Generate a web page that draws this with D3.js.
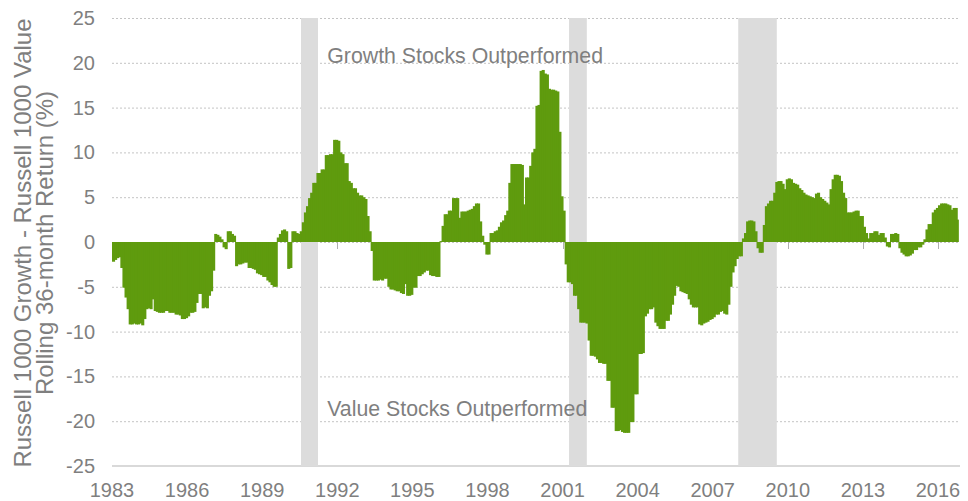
<!DOCTYPE html>
<html>
<head>
<meta charset="utf-8">
<script src="https://cdn.jsdelivr.net/npm/d3@7"></script>
<style>
  html, body { margin: 0; padding: 0; background: #ffffff; }
  svg { display: block; }
  text { font-family: "Liberation Sans", Arial, sans-serif; fill: #7f7f7f; }
</style>
</head>
<body>
<svg id="chart" width="968" height="501"></svg>
<script>
// ---- data ----
const startYear = 1983;               // first month = Jan 1983
const monthlyDiff = [
  // 1983
  -2.2, -2.0, -1.8, -1.7, -2.9, -5.1, -6.2, -7.5, -9.2, -9.2, -9.1, -9.2,
  // 1984
  -9.2, -9.1, -9.3, -8.6, -7.5, -7.4, -7.5, -6.4, -7.7, -7.8, -7.9, -7.9,
  // 1985
  -7.9, -7.7, -7.7, -7.9, -7.9, -7.9, -8.1, -8.1, -8.2, -8.6, -8.6, -8.5,
  // 1986
  -8.3, -7.9, -7.9, -7.8, -6.8, -5.8, -5.8, -7.4, -7.3, -7.4, -6.0, -5.5,
  // 1987
  -3.2, 0.9, 0.8, 0.6, 0.3, -0.6, -0.8, 1.2, 1.2, 0.9, 0.7, -2.7,
  // 1988
  -2.5, -2.5, -2.4, -2.3, -2.3, -2.9, -2.9, -3.0, -3.1, -3.5, -3.6, -3.7,
  // 1989
  -3.9, -3.9, -4.3, -4.5, -4.8, -5.0, -5.0, 0.5, 0.9, 1.3, 1.4, 1.2,
  // 1990
  -3.0, -2.9, 1.2, 1.2, 1.0, 0.9, 1.2, 2.2, 3.3, 4.0, 4.9, 5.5,
  // 1991
  6.6, 6.6, 7.7, 7.7, 8.1, 8.1, 9.7, 9.7, 9.8, 9.8, 11.4, 11.4,
  // 1992
  11.3, 10.0, 9.8, 8.8, 8.8, 6.8, 6.6, 6.0, 6.0, 5.5, 5.2, 5.2,
  // 1993
  5.0, 4.8, 2.9, 1.2, -1.0, -4.3, -4.3, -4.3, -4.2, -4.3, -4.1, -4.1,
  // 1994
  -5.0, -5.3, -5.3, -5.4, -5.5, -5.5, -5.7, -5.8, -4.7, -6.0, -6.0, -5.9,
  // 1995
  -5.1, -5.1, -3.8, -3.8, -3.6, -3.4, -3.2, -3.2, -3.7, -3.8, -3.8, -3.9,
  // 1996
  -3.9, 0.1, 1.8, 3.1, 3.1, 3.5, 3.5, 4.9, 4.9, 4.9, 2.7, 3.4,
  // 1997
  3.4, 3.4, 3.5, 3.6, 3.7, 4.0, 4.3, 4.3, 2.3, 0.7, -0.3, -1.4,
  // 1998
  -1.4, 1.0, 1.0, 1.2, 1.3, 1.7, 2.2, 2.4, 3.0, 3.5, 6.6, 8.7,
  // 1999
  8.7, 8.7, 8.7, 8.7, 8.6, 4.2, 7.2, 7.2, 8.5, 10.0, 10.4, 15.2,
  // 2000
  15.3, 19.1, 19.2, 18.8, 18.7, 17.1, 17.0, 17.0, 16.9, 16.8, 12.3, 5.1,
  // 2001
  3.5, -2.5, -4.5, -4.5, -4.7, -6.0, -6.0, -7.5, -9.0, -9.0, -9.0, -9.1,
  // 2002
  -11.0, -12.7, -12.7, -12.8, -13.1, -13.5, -13.5, -13.6, -13.6, -15.5, -15.5, -18.5,
  // 2003
  -18.5, -21.1, -21.1, -21.0, -21.2, -21.3, -21.3, -21.3, -20.1, -20.1, -17.0, -17.0,
  // 2004
  -12.5, -12.5, -12.4, -8.3, -8.0, -7.5, -7.5, -7.3, -9.0, -9.4, -9.7, -9.7,
  // 2005
  -9.7, -8.8, -8.8, -8.1, -7.0, -6.0, -4.9, -5.0, -5.5, -5.6, -5.7, -5.8,
  // 2006
  -6.4, -7.0, -7.3, -7.3, -7.3, -9.2, -9.3, -9.1, -9.0, -8.9, -8.7, -8.6,
  // 2007
  -8.4, -8.1, -8.1, -7.8, -7.7, -8.0, -8.1, -7.0, -5.0, -3.4, -2.7, -1.9,
  // 2008
  -1.6, -1.6, 0.4, 1.0, 2.3, 2.4, 2.4, 2.3, 1.2, -0.7, -1.2, -1.2,
  // 2009
  1.9, 4.0, 4.3, 4.6, 4.6, 5.5, 6.7, 6.8, 6.8, 6.5, 5.9, 7.0,
  // 2010
  7.1, 7.0, 6.6, 6.5, 6.4, 6.0, 5.8, 5.5, 5.3, 5.2, 5.1, 5.0,
  // 2011
  4.9, 5.4, 5.5, 5.0, 4.8, 4.6, 4.4, 4.2, 5.9, 7.0, 7.5, 7.5,
  // 2012
  7.4, 6.8, 5.5, 4.9, 3.3, 3.3, 3.3, 3.4, 3.5, 3.5, 2.9, 2.9,
  // 2013
  1.7, 1.0, 0.4, 1.0, 1.0, 1.2, 1.2, 0.8, 1.0, 1.0, 0.5, -0.5,
  // 2014
  -0.6, 0.9, 0.9, 1.0, 0.9, -0.7, -1.2, -1.4, -1.6, -1.6, -1.5, -1.3,
  // 2015
  -0.9, -0.9, -0.6, -0.6, -0.3, 0.3, 1.4, 2.0, 2.0, 3.3, 3.6, 3.8,
  // 2016
  4.1, 4.3, 4.3, 4.3, 4.2, 4.1, 3.6, 3.8, 3.8, 2.5
];
const xTickYears = [1983, 1986, 1989, 1992, 1995, 1998, 2001, 2004, 2007, 2010, 2013, 2016];
const yTickValues = [25, 20, 15, 10, 5, 0, -5, -10, -15, -20, -25];
const recessions = [[1990.55, 1991.23], [2001.26, 2001.97], [2008.02, 2009.56]];
const yTitleLines = ["Russell 1000 Growth - Russell 1000 Value", "Rolling 36-month Return (%)"];
const annotations = [
  { text: "Growth Stocks Outperformed", year: 1991.6, value: 20.0 },
  { text: "Value Stocks Outperformed", year: 1991.6, value: -19.4 }
];

// ---- layout ----
const svg = d3.select("#chart");
const endYear = startYear + monthlyDiff.length / 12;
const x = d3.scaleLinear().domain([startYear, endYear]).range([112, 112 + (endYear - startYear) * 25.03]);
const y = d3.scaleLinear().domain([-25, 25]).range([466, 18]);
const plotLeft = 112, plotRight = 960;

// gridlines (dotted)
svg.append("g").selectAll("line")
  .data(yTickValues.filter(v => v !== -25))
  .join("line")
  .attr("x1", plotLeft).attr("x2", plotRight)
  .attr("y1", d => y(d) + 0.5).attr("y2", d => y(d) + 0.5)
  .attr("stroke", "#c4c4c4").attr("stroke-width", 1)
  .attr("stroke-dasharray", "2,2");

// bottom axis line
svg.append("line")
  .attr("x1", plotLeft).attr("x2", plotRight)
  .attr("y1", y(-25)).attr("y2", y(-25))
  .attr("stroke", "#d9d9d9").attr("stroke-width", 2);

// recession bands
svg.append("g").selectAll("rect")
  .data(recessions)
  .join("rect")
  .attr("x", d => x(d[0]))
  .attr("width", d => x(d[1]) - x(d[0]))
  .attr("y", y(25))
  .attr("height", y(-25) - y(25))
  .attr("fill", "#dcdcdc");

// tick marks on zero line
svg.append("g").selectAll("line")
  .data(xTickYears)
  .join("line")
  .attr("x1", d => Math.round(x(d)) + 0.5).attr("x2", d => Math.round(x(d)) + 0.5)
  .attr("y1", y(0)).attr("y2", y(0) + 7)
  .attr("stroke", "#b0b0b0").attr("stroke-width", 1);

// bars (slight overlap to avoid anti-aliasing seams)
svg.append("g").selectAll("rect")
  .data(monthlyDiff)
  .join("rect")
  .attr("x", (d, i) => x(startYear + i / 12))
  .attr("width", (d, i) => x(startYear + (i + 1) / 12) - x(startYear + i / 12) + (i === monthlyDiff.length - 1 ? 0 : 1))
  .attr("y", d => y(Math.max(0, d)))
  .attr("height", d => Math.abs(y(d) - y(0)))
  .attr("fill", "#5f9b0e");

// y tick labels
svg.append("g").selectAll("text")
  .data(yTickValues)
  .join("text")
  .attr("x", 95)
  .attr("y", d => y(d))
  .attr("dy", "0.35em")
  .attr("text-anchor", "end")
  .attr("font-size", 20)
  .text(d => d);

// x tick labels
svg.append("g").selectAll("text")
  .data(xTickYears)
  .join("text")
  .attr("x", d => x(d))
  .attr("y", 497)
  .attr("text-anchor", "middle")
  .attr("font-size", 20)
  .text(d => d);

// y axis title
const titleG = svg.append("g").attr("transform", "translate(0,243)");
titleG.selectAll("text")
  .data(yTitleLines)
  .join("text")
  .attr("transform", (d, i) => `translate(${31 + i * 22},0) rotate(-90)`)
  .attr("text-anchor", "middle")
  .attr("font-size", 24)
  .text(d => d);

// annotations
svg.append("g").selectAll("text")
  .data(annotations)
  .join("text")
  .attr("x", d => x(d.year))
  .attr("y", d => y(d.value))
  .attr("font-size", 21.3)
  .text(d => d.text);
</script>
</body>
</html>
